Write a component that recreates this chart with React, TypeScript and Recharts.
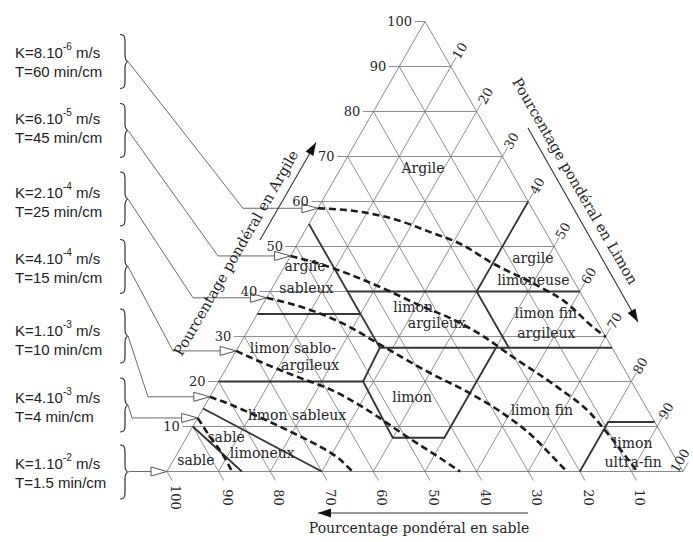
import React from 'react';
import { ScatterChart, Scatter, XAxis, YAxis } from 'recharts';

// ---------------- data ----------------
const gridPercents = [10, 20, 30, 40, 50, 60, 70, 80, 90];
const clayTicks = [10, 20, 30, 40, 50, 60, 70, 80, 90, 100];
const siltTicks = [10, 20, 30, 40, 50, 60, 70, 80, 90, 100];
const sandTicks = [100, 90, 80, 70, 60, 50, 40, 30, 20, 10];

// iso-permeability curves, points as [clay %, silt %]
const isoK60: [number, number][] = [[58.5, 0], [57.7, 8.6], [55.9, 16.6], [53.2, 24.4], [50.3, 32.2], [46.6, 39.3], [41.0, 51.8], [37.7, 58.3], [32.1, 66.5], [29.9, 70.1]];
const isoK45: [number, number][] = [[47.9, 0], [45.4, 8.9], [41.0, 20.8], [36.6, 31.3], [34.1, 37.8], [30.1, 46.2], [25.9, 53.5], [18.8, 66.2], [13.0, 75.5], [8.6, 81.0], [0, 91.1]];
const isoK25: [number, number][] = [[38.6, 0], [35.9, 9.8], [32.1, 19.4], [28.6, 26.4], [21.9, 40.0], [17.4, 50.0], [13.4, 57.8], [7.7, 67.1], [3.2, 73.2], [0, 77.5]];
const isoK15: [number, number][] = [[26.8, 0], [24.1, 6.6], [20.8, 15.4], [18.3, 22.4], [14.3, 30.8], [7.7, 42.7], [3.0, 51.4], [0, 56.8]];
const isoK10: [number, number][] = [[16.6, 0], [15.2, 4.0], [13.0, 9.6], [8.6, 20.1], [5.9, 26.1], [2.6, 32.3], [0, 35.9]];
const isoK4: [number, number][] = [[11.9, 0], [7.7, 4.5], [3.7, 9.0], [0, 12.6]];
const isoCurves = [isoK60, isoK45, isoK25, isoK15, isoK10, isoK4];

// permeability legend
const kMantissa = ['8.10', '6.10', '2.10', '4.10', '1.10', '4.10', '1.10'];
const kExponent = ['-6', '-5', '-4', '-4', '-3', '-3', '-2'];
const tMinPerCm = ['60', '45', '25', '15', '10', '4', '1.5'];
const arrowClay = [58.5, 47.9, 38.6, 26.8, 16.6, 11.9, 0];

// texture class boundaries, [clay %, silt %]
const boundaries: [number, number][][] = [
  [[55, 0], [27.5, 27.5]],
  [[40, 15], [40, 60]],
  [[60, 40], [40, 40], [27.5, 52.5]],
  [[27.5, 27.5], [27.5, 72.5]],
  [[35, 0], [35, 20]],
  [[20, 0], [20, 28], [7.5, 40], [7.5, 50], [27.5, 50]],
  [[27.5, 27.5], [20, 28]],
  [[14, 0], [0, 30]],
  [[10, 0], [0, 14.5]],
  [[0, 80], [11, 80], [11, 89]],
];

// texture class names, placed at [clay %, silt %]
const classNames = ['Argile', 'argile', 'sableux', 'argile', 'limoneuse', 'limon', 'argileux', 'limon fin', 'argileux', 'limon sablo-', 'argileux', 'limon', 'limon sableux', 'limon fin', 'limon', 'ultra-fin', 'sable', 'limoneux', 'sable'];
const classClay = [67.4, 45.7, 40.8, 47.4, 42.6, 36.6, 33.0, 35.2, 30.8, 27.4, 23.7, 16.6, 12.6, 13.7, 6.3, 2.1, 7.7, 4.1, 2.6];
const classSilt = [15.9, 3.9, 6.6, 47.2, 49.7, 29.4, 35.8, 55.8, 58.1, 10.7, 15.9, 39.2, 18.9, 65.8, 87.1, 89.3, 7.6, 16.4, 4.3];

const titleClay = 'Pourcentage pondéral en Argile';
const titleSilt = 'Pourcentage pondéral en Limon';
const titleSand = 'Pourcentage pondéral en sable';

// ---------------- layout ----------------
const W = 693;
const H = 542;
const LEFT_X = 167;
const BASE_Y = 471.5;
const PX_U = 5.16;
const PX_V = 4.5;
const X_DOMAIN: [number, number] = [-LEFT_X / PX_U, (W - LEFT_X) / PX_U];
const Y_DOMAIN: [number, number] = [-(H - BASE_Y) / PX_V, BASE_Y / PX_V];

const legendTextX = 15;
const legendLine1Y = [52, 118, 192, 258, 330, 397, 463];
const legendGap = 19;
const braceCenterY = [61.5, 130.5, 199, 266.5, 336, 405, 472];
const braceTipX = 128;
const leaderElbowX = [243, 218, 193, 173, 148, 132, 130];

const SERIF = "'DejaVu Serif', 'Liberation Serif', serif";
const SANS = "'Liberation Sans', Arial, sans-serif";
const GRID = '#7c7c7c';
const BOUND = '#353535';
const DASH = '#1c1c1c';
const INK = '#262626';
const LEADER = '#6a6a6a';

type P = { x: number; y: number };
const tern = (clay: number, silt: number): P => ({ x: silt + clay / 2, y: clay });
const px = (x: number, y: number): P => ({ x: (x - LEFT_X) / PX_U, y: (BASE_Y - y) / PX_V });
const shift = (p: P, dx: number, dy: number): P => ({ x: p.x + dx / PX_U, y: p.y - dy / PX_V });

const noDot = () => <g />;

const line = (key: string, pts: P[], stroke: string, width: number, dash?: string, joint: any = 'linear') => (
  <Scatter
    key={key}
    data={pts}
    fill={stroke}
    shape={noDot}
    line={{ stroke, strokeWidth: width, strokeDasharray: dash, fill: 'none' }}
    lineType="joint"
    lineJointType={joint}
    isAnimationActive={false}
    legendType="none"
  />
);

const makeText = (o: { size: number; family?: string; anchor?: string; rotate?: number; color?: string }) => (props: any) => {
  const { cx, cy, payload } = props;
  if (cx == null || cy == null) return <g />;
  return (
    <text
      x={cx}
      y={cy}
      textAnchor={o.anchor || 'middle'}
      dominantBaseline="central"
      fontFamily={o.family || SERIF}
      fontSize={o.size}
      fill={o.color || INK}
      transform={o.rotate ? `rotate(${o.rotate} ${cx} ${cy})` : undefined}
    >
      {payload.label}
    </text>
  );
};

const hollowArrow = (props: any) => {
  const { cx, cy } = props;
  return <polygon points={`${cx},${cy} ${cx - 16},${cy - 4.5} ${cx - 16},${cy + 4.5}`} fill="#fff" stroke="#555" strokeWidth={1} />;
};

const makeHead = (angle: number) => (props: any) => {
  const { cx, cy } = props;
  const a = (angle * Math.PI) / 180;
  const c = Math.cos(a), s = Math.sin(a);
  const bx = cx - 13 * c, by = cy - 13 * s;
  return <polygon points={`${cx},${cy} ${bx - 4.5 * s},${by + 4.5 * c} ${bx + 4.5 * s},${by - 4.5 * c}`} fill="#111" />;
};

const brace = (props: any) => {
  const { cx, cy } = props;
  const h = 27;
  const d = `M ${cx - 8} ${cy - h} C ${cx - 3} ${cy - h} ${cx - 3} ${cy - h + 3} ${cx - 3} ${cy - h + 8} L ${cx - 3} ${cy - 6} C ${cx - 3} ${cy - 2} ${cx - 1} ${cy} ${cx} ${cy} C ${cx - 1} ${cy} ${cx - 3} ${cy + 2} ${cx - 3} ${cy + 6} L ${cx - 3} ${cy + h - 8} C ${cx - 3} ${cy + h - 3} ${cx - 3} ${cy + h} ${cx - 8} ${cy + h}`;
  return <path d={d} fill="none" stroke="#333" strokeWidth={1.2} />;
};

const legendShape = (props: any) => {
  const { cx, cy, payload } = props;
  return (
    <g fontFamily={SANS} fontSize={15} fill="#222">
      <text x={cx} y={cy} dominantBaseline="central">
        K={payload.k}
        <tspan dy={-6} fontSize={10}>{payload.exp}</tspan>
        <tspan dy={6}> m/s</tspan>
      </text>
      <text x={cx} y={cy + legendGap} dominantBaseline="central">T={payload.t} min/cm</text>
    </g>
  );
};

// silt tick label position: beyond the right edge, the last one pulled in at the corner
const siltLabelPos = (t: number): P => (t < 100 ? tern(103.5 - t, t) : shift(tern(0, 100), -3, -11));

export default function App() {
  const els: React.ReactNode[] = [];

  // triangle outline
  els.push(line('edges', [tern(0, 0), tern(100, 0), tern(0, 100), tern(0, 0)], GRID, 0.9));
  // grid with ticks
  gridPercents.forEach((c) => els.push(line(`gc${c}`, [tern(c, -2), tern(c, 100 - c)], GRID, 0.85)));
  gridPercents.forEach((t) => els.push(line(`gt${t}`, [tern(0, t), tern(102 - t, t)], GRID, 0.85)));
  gridPercents.forEach((s) => els.push(line(`gs${s}`, [tern(-2, 102 - s), tern(100 - s, 0)], GRID, 0.85)));
  els.push(line('tc100', [tern(100, -2), tern(100, 0)], GRID, 0.85));
  els.push(line('tt100', [tern(0, 100), tern(2, 100)], GRID, 0.85));
  els.push(line('ts100', [tern(0, 0), tern(-2, 2)], GRID, 0.85));

  // class boundaries
  boundaries.forEach((b, i) => els.push(line(`b${i}`, b.map(([c, t]) => tern(c, t)), BOUND, 1.8)));

  // iso-permeability curves
  isoCurves.forEach((cv, i) => els.push(line(`k${i}`, cv.map(([c, t]) => tern(c, t)), DASH, 2.6, '7 4', 'monotoneX')));

  // leader lines from legend to the curves
  arrowClay.forEach((c, i) => {
    const tail = shift(tern(c, 0), -16, 0);
    els.push(line(`lead${i}`, [px(braceTipX, braceCenterY[i]), { x: px(leaderElbowX[i], 0).x, y: c }, tail], LEADER, 1));
  });
  els.push(
    <Scatter key="arrows" data={arrowClay.map((c) => tern(c, 0))} shape={hollowArrow} isAnimationActive={false} legendType="none" />
  );
  els.push(
    <Scatter key="braces" data={braceCenterY.map((y) => px(braceTipX, y))} shape={brace} isAnimationActive={false} legendType="none" />
  );
  els.push(
    <Scatter
      key="legend"
      data={kMantissa.map((k, i) => ({ ...px(legendTextX, legendLine1Y[i]), k, exp: kExponent[i], t: tMinPerCm[i] }))}
      shape={legendShape}
      isAnimationActive={false}
      legendType="none"
    />
  );

  // tick labels
  els.push(
    <Scatter key="clayLab" data={clayTicks.map((c) => ({ ...shift(tern(c, 0), -13, 0), label: String(c) }))} shape={makeText({ size: 13, anchor: 'end' })} isAnimationActive={false} legendType="none" />
  );
  els.push(
    <Scatter key="siltLab" data={siltTicks.map((t) => ({ ...siltLabelPos(t), label: String(t) }))} shape={makeText({ size: 13, rotate: -60 })} isAnimationActive={false} legendType="none" />
  );
  els.push(
    <Scatter key="sandLab" data={sandTicks.map((s) => ({ ...shift(tern(0, 100 - s), 8.5, 26), label: String(s) }))} shape={makeText({ size: 13, rotate: 90 })} isAnimationActive={false} legendType="none" />
  );

  // class names
  els.push(
    <Scatter key="classes" data={classNames.map((n, i) => ({ ...tern(classClay[i], classSilt[i]), label: n }))} shape={makeText({ size: 14 })} isAnimationActive={false} legendType="none" />
  );

  // axis titles with arrows
  els.push(<Scatter key="tClay" data={[{ ...px(236, 253), label: titleClay }]} shape={makeText({ size: 14.5, rotate: -60 })} isAnimationActive={false} legendType="none" />);
  els.push(<Scatter key="tSilt" data={[{ ...px(575, 181), label: titleSilt }]} shape={makeText({ size: 14.5, rotate: 60 })} isAnimationActive={false} legendType="none" />);
  els.push(<Scatter key="tSand" data={[{ ...px(419, 528), label: titleSand }]} shape={makeText({ size: 14 })} isAnimationActive={false} legendType="none" />);
  els.push(line('aClay', [px(260, 240), px(316, 142.5)], '#333', 1.1));
  els.push(line('aSilt', [px(528, 128), px(638, 322)], '#333', 1.1));
  els.push(line('aSand', [px(528, 513), px(318, 513)], '#333', 1.1));
  els.push(<Scatter key="hClay" data={[px(316, 142.5)]} shape={makeHead(-60.1)} isAnimationActive={false} legendType="none" />);
  els.push(<Scatter key="hSilt" data={[px(638, 322)]} shape={makeHead(60.4)} isAnimationActive={false} legendType="none" />);
  els.push(<Scatter key="hSand" data={[px(318, 513)]} shape={makeHead(180)} isAnimationActive={false} legendType="none" />);

  return (
    <div style={{ position: 'absolute', left: 0, top: 0, width: W, height: H, background: '#fff' }}>
      <ScatterChart width={W} height={H} margin={{ top: 0, right: 0, bottom: 0, left: 0 }}>
        <XAxis type="number" dataKey="x" domain={X_DOMAIN} allowDataOverflow hide />
        <YAxis type="number" dataKey="y" domain={Y_DOMAIN} allowDataOverflow hide />
        {els}
      </ScatterChart>
    </div>
  );
}
